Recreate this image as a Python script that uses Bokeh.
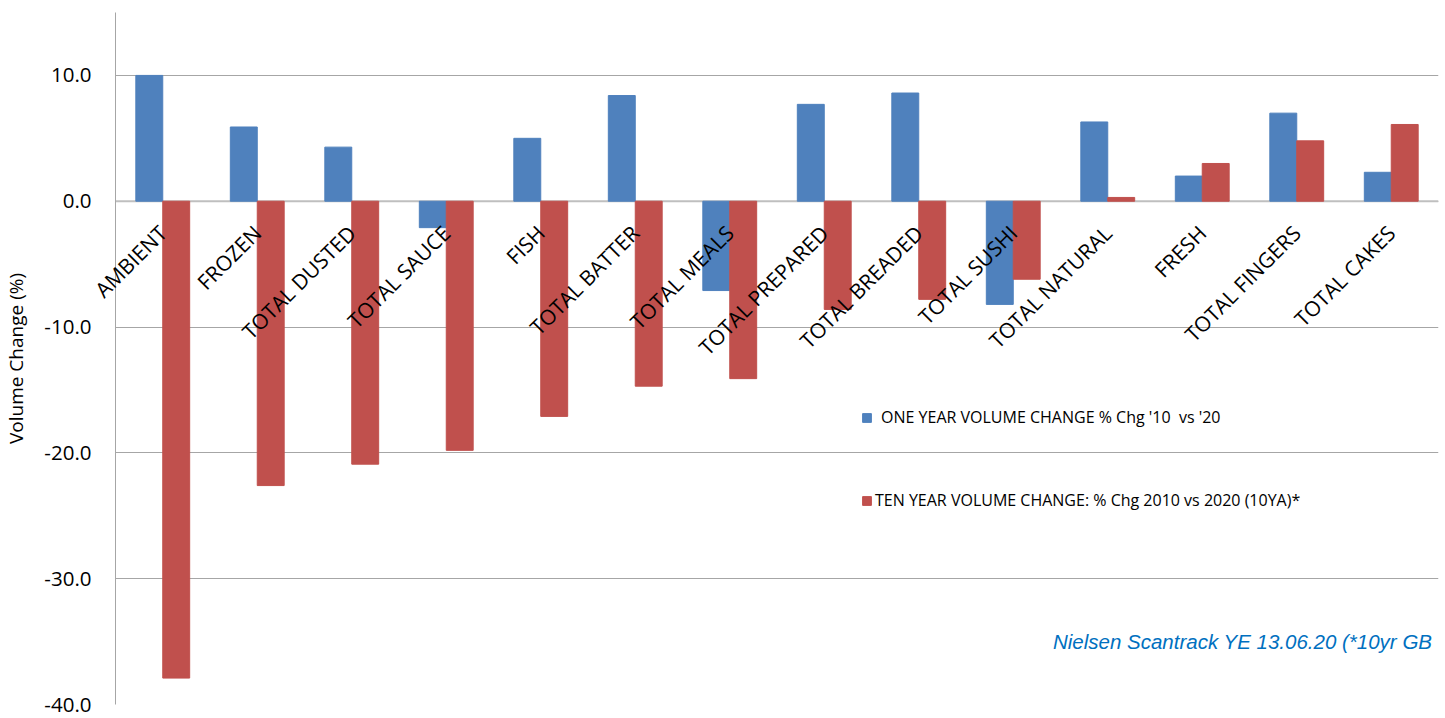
import math
from bokeh.plotting import figure
from bokeh.models import (ColumnDataSource, FactorRange, Range1d, FixedTicker,
                          NumeralTickFormatter, Legend, LegendItem, Label, Span)
from bokeh.transform import dodge
from bokeh.core.properties import value
from bokeh.embed import file_html
from bokeh.resources import INLINE

categories = ["AMBIENT", "FROZEN", "TOTAL DUSTED", "TOTAL SAUCE", "FISH",
              "TOTAL BATTER", "TOTAL MEALS", "TOTAL PREPARED", "TOTAL BREADED",
              "TOTAL SUSHI", "TOTAL NATURAL", "FRESH", "TOTAL FINGERS", "TOTAL CAKES"]
one_year = [10.0, 5.9, 4.3, -2.1, 5.0, 8.4, -7.1, 7.7, 8.6, -8.2, 6.3, 2.0, 7.0, 2.3]
ten_year = [-37.9, -22.6, -20.9, -19.8, -17.1, -14.7, -14.1, -8.6, -7.8, -6.2, 0.3, 3.0, 4.8, 6.1]
y_ticks = [-40, -30, -20, -10, 0, 10]
label_one = "ONE YEAR VOLUME CHANGE % Chg '10  vs '20"
label_ten = "TEN YEAR VOLUME CHANGE: % Chg 2010 vs 2020 (10YA)*"
source_note = "Nielsen Scantrack YE 13.06.20 (*10yr GB"

src = ColumnDataSource(dict(cat=categories, one=one_year, ten=ten_year))

p = figure(width=1445, height=718, x_range=FactorRange(factors=categories),
           y_range=Range1d(-40, 15), output_backend="svg", toolbar_location=None,
           x_axis_location=None, min_border_left=113, min_border_right=7,
           min_border_top=12, min_border_bottom=14)
p.outline_line_color = None
p.background_fill_color = "white"
p.border_fill_color = "white"

p.xgrid.visible = False
p.ygrid.grid_line_color = "#A6A6A6"
p.ygrid.grid_line_width = 1

ax = p.yaxis[0]
ax.ticker = FixedTicker(ticks=y_ticks)
ax.formatter = NumeralTickFormatter(format="0.0")
ax.axis_line_color = "#A6A6A6"
ax.major_tick_line_color = None
ax.minor_tick_line_color = None
ax.major_tick_out = 0
ax.major_label_standoff = 24
ax.major_label_text_font = "Open Sans"
ax.major_label_text_font_size = "20.5px"
ax.major_label_text_color = "#000000"
ax.axis_label = "Volume Change (%)"
ax.axis_label_text_font = "Open Sans"
ax.axis_label_text_font_size = "19px"
ax.axis_label_text_font_style = "normal"
ax.axis_label_text_color = "#000000"
ax.axis_label_standoff = 12

p.add_layout(Span(location=0, dimension="width", line_color="#BFBFBF",
                  line_width=2, level="underlay"))

r1 = p.vbar(x=dodge("cat", -0.1425, range=p.x_range), top="one", bottom=0,
            width=0.285, source=src, fill_color="#4F81BD", line_color="#4F81BD")
r2 = p.vbar(x=dodge("cat", 0.1425, range=p.x_range), top="ten", bottom=0,
            width=0.285, source=src, fill_color="#C0504D", line_color="#C0504D")

# category labels (rotated, just below the zero line); overlay level so they may pass the frame edge
p.text(x="cat", y=0, text="cat", source=src, angle=math.pi / 4,
       text_align="right", text_baseline="middle", y_offset=28,
       text_font=value("Open Sans"), text_font_size="21px",
       text_color="#000000", level="overlay")

def make_legend(item, loc, standoff):
    lg = Legend(items=[item], location=loc, orientation="vertical",
                glyph_width=11, glyph_height=11, label_standoff=standoff,
                padding=0, margin=0, spacing=0,
                label_text_font="Open Sans", label_text_font_size="16px",
                label_text_color="#000000",
                background_fill_alpha=0, border_line_alpha=0)
    return lg

p.add_layout(make_legend(LegendItem(label=label_one, renderers=[r1]), (746, 276), 9), "center")
p.add_layout(make_legend(LegendItem(label=label_ten, renderers=[r2]), (746, 193), 3), "center")

p.add_layout(Label(x=9.92, y=-35.0, text=source_note, text_baseline="middle",
                   text_align="left", text_font="Liberation Sans",
                   text_font_style="italic", text_font_size="20.5px",
                   text_color="#0070C0"))

open("out.html", "w").write(file_html(p, INLINE))
